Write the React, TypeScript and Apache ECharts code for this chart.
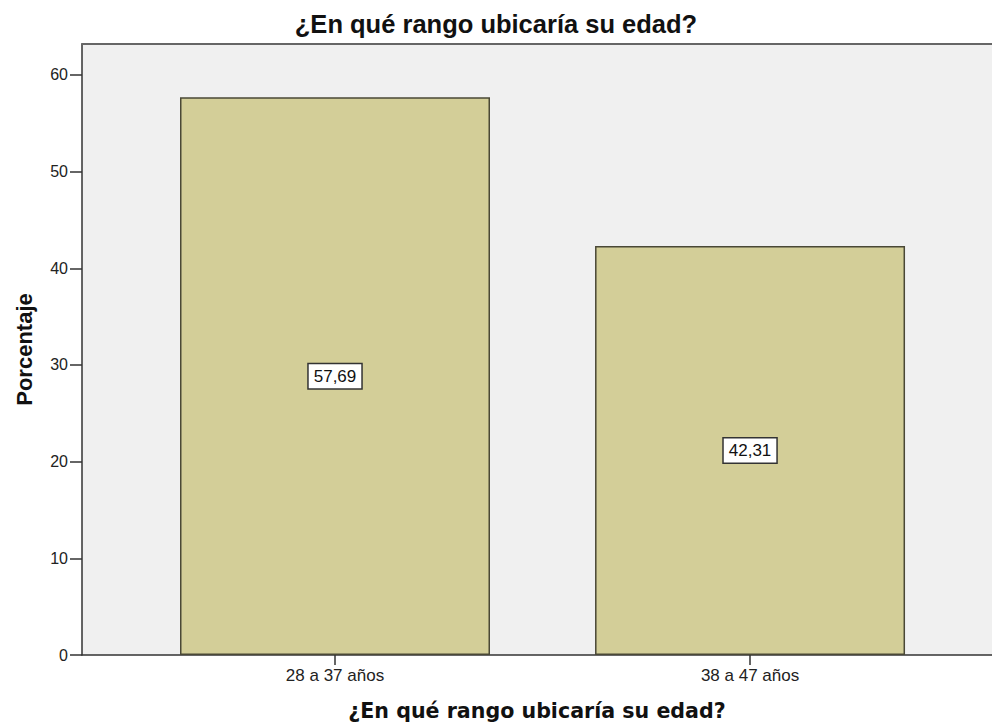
import React, { useEffect, useRef } from "react";
import * as echarts from "echarts";

const categories = ["28 a 37 años", "38 a 47 años"];
const percentages = [57.69, 42.31];
const yTicks = [0, 10, 20, 30, 40, 50, 60];
const titleText = "¿En qué rango ubicaría su edad?";
const xAxisName = "¿En qué rango ubicaría su edad?";
const yAxisName = "Porcentaje";

export default function App() {
  const ref = useRef<HTMLDivElement>(null);
  useEffect(() => {
    if (!ref.current) return;
    const chart = echarts.init(ref.current, null, { renderer: "svg" });
    const positions = categories.map((_, i) => i);
    const xMin = -0.6096;
    const xMax = 1.583;
    chart.setOption({
      animation: false,
      backgroundColor: "#ffffff",
      title: {
        text: titleText,
        left: "center",
        top: 6,
        textStyle: {
          fontFamily: "Liberation Sans",
          fontWeight: "bold",
          fontSize: 25.5,
          color: "#111",
        },
      },
      grid: {
        left: 82,
        right: 0,
        top: 44,
        bottom: 67,
        show: true,
        backgroundColor: "#f0f0f0",
        borderWidth: 0,
      },
      xAxis: [
        {
          type: "value",
          min: xMin,
          max: xMax,
          splitLine: { show: false },
          axisLine: { show: true, onZero: false, lineStyle: { color: "#333", width: 1.5 } },
          axisTick: {
            show: true,
            customValues: positions,
            length: 10,
            lineStyle: { color: "#333", width: 1.5 },
          },
          axisLabel: {
            customValues: positions,
            formatter: (v: number) => categories[Math.round(v)] ?? "",
            margin: 12,
            fontFamily: "Liberation Sans",
            fontSize: 17,
            color: "#222",
          },
          name: xAxisName,
          nameLocation: "middle",
          nameGap: 45,
          nameTextStyle: {
            fontFamily: "DejaVu Sans",
            fontWeight: "bold",
            fontSize: 20.6,
            color: "#111",
          },
        },
        {
          type: "value",
          position: "top",
          min: xMin,
          max: xMax,
          splitLine: { show: false },
          axisLine: { show: true, onZero: false, lineStyle: { color: "#666", width: 2 } },
          axisTick: { show: false },
          axisLabel: { show: false },
        },
      ],
      yAxis: {
        type: "value",
        min: 0,
        max: 63.2,
        splitLine: { show: false },
        axisLine: { show: true, onZero: false, lineStyle: { color: "#333", width: 1.5 } },
        axisTick: {
          show: true,
          customValues: yTicks,
          length: 12,
          lineStyle: { color: "#333", width: 1.5 },
        },
        axisLabel: {
          customValues: yTicks,
          margin: 14,
          fontFamily: "Liberation Sans",
          fontSize: 16,
          color: "#222",
        },
        name: yAxisName,
        nameLocation: "middle",
        nameGap: 47,
        nameTextStyle: {
          fontFamily: "Liberation Sans",
          fontWeight: "bold",
          fontSize: 22,
          color: "#111",
        },
      },
      series: [
        {
          type: "bar",
          xAxisIndex: 0,
          barWidth: 310,
          data: percentages.map((v, i) => [positions[i], v]),
          itemStyle: {
            color: "#d3ce98",
            borderColor: "#4a4836",
            borderWidth: 1.5,
          },
          label: {
            show: true,
            position: "inside",
            formatter: (p: any) => p.value[1].toFixed(2).replace(".", ","),
            fontFamily: "Liberation Sans",
            fontSize: 17,
            color: "#111",
            backgroundColor: "#ffffff",
            borderColor: "#333",
            borderWidth: 1.5,
            padding: [4, 5, 3, 5],
          },
        },
      ],
    });
    return () => chart.dispose();
  }, []);
  return (
    <div
      ref={ref}
      style={{ position: "absolute", left: 0, top: 0, width: 992, height: 726 }}
    />
  );
}
